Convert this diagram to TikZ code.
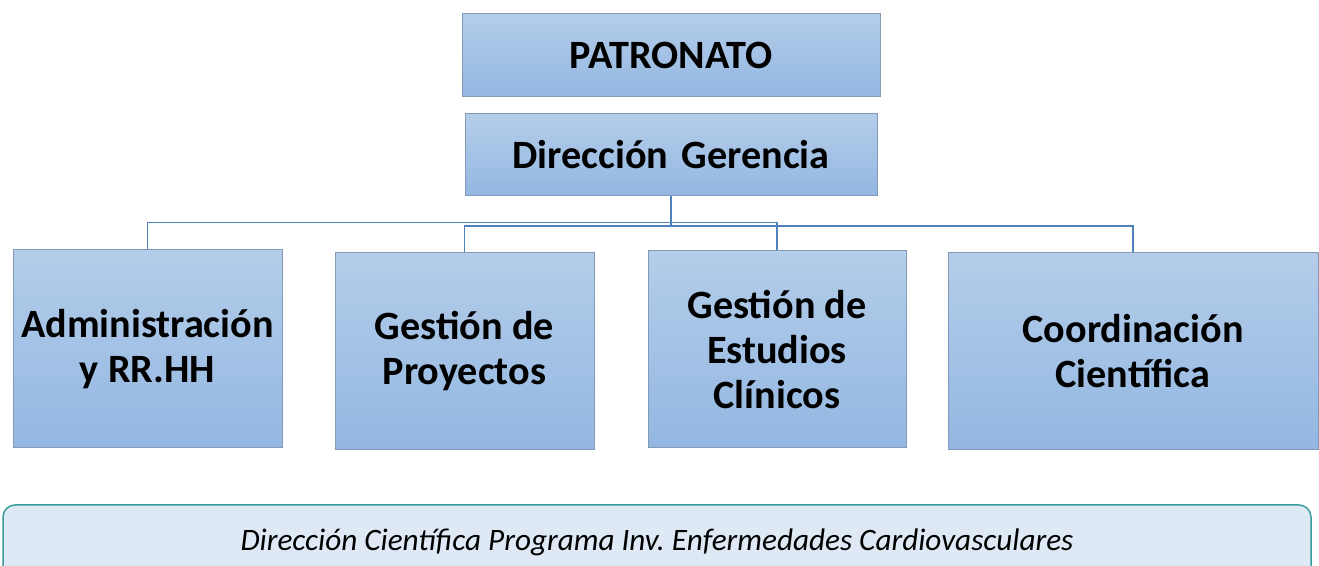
\documentclass[tikz,border=0pt]{standalone}
\usepackage{fontspec}
\setmainfont{Carlito}
\frenchspacing
\definecolor{boxtop}{HTML}{B4CDEA}
\definecolor{boxbot}{HTML}{93B7E1}
\definecolor{boxline}{HTML}{8299B8}
\definecolor{linkblue}{HTML}{4F81BD}
\definecolor{barfill}{HTML}{DEE9F5}
\definecolor{barline}{HTML}{3B9C9C}

\begin{document}
\begin{tikzpicture}[x=0.5pt, y=-0.5pt,
	orgbox/.style={draw=boxline, line width=0.5pt, top color=boxtop, bottom color=boxbot, align=center, inner sep=0pt},
	unitfont/.style={font=\fontsize{20.1}{22.5}\selectfont\bfseries},
	link/.style={draw=linkblue, line width=0.75pt}]
	
	\useasboundingbox (0,0) rectangle (1319,566);
	\clip (0,0) rectangle (1319,566);
	
	% top of the chart
	\node[orgbox, minimum width=209pt, minimum height=41.5pt, font=\fontsize{20.1}{22}\selectfont\bfseries] (pat) at (671,55) {PATRONATO};
	\node[orgbox, minimum width=206pt, minimum height=41pt, font=\fontsize{20.1}{22}\selectfont\bfseries] (dg) at (671,155) {Dirección\,\,Gerencia};
	
	% units
	\node[orgbox, unitfont, minimum width=134.5pt, minimum height=99pt] (adm) at (147.5,349) {Administración\\y RR.HH};
	\node[orgbox, unitfont, minimum width=129.5pt, minimum height=98.5pt] (pro) at (464.5,351.5) {Gestión de\\Proyectos};
	\node[orgbox, unitfont, minimum width=129pt, minimum height=98.5pt] (est) at (777,349.5) {Gestión de\\Estudios\\Clínicos};
	\node[orgbox, unitfont, minimum width=185pt, minimum height=98.5pt] (coo) at (1133,351.5) {Coordinación\\Científica};
	
	\draw[link] (dg.south) -- ++(0,30);
	\draw[link] (adm.north) -- ++(0,-27) -| (est.north);
	\draw[link] (pro.north) -- ++(0,-26.5) -| (coo.north);
	
	\node[draw=barline, line width=0.75pt, fill=barfill, rounded corners=6pt, minimum width=654pt, minimum height=37pt, font=\fontsize{15.6}{18}\selectfont\itshape] (dcp) at (657,542) {Dirección Científica Programa Inv. Enfermedades Cardiovasculares};
\end{tikzpicture}
\end{document}
